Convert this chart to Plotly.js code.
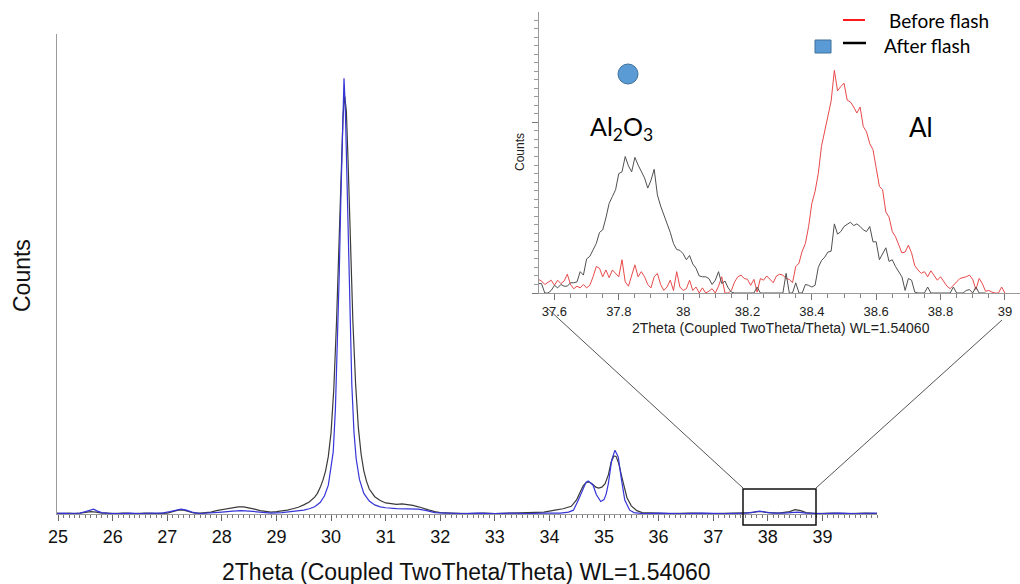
<!DOCTYPE html>
<html>
<head>
<meta charset="utf-8">
<script src="https://cdn.plot.ly/plotly-3.0.1.min.js"></script>
<style>html,body{margin:0;padding:0;background:#fff;}#chart{width:1020px;height:584px;}</style>
</head>
<body>
<div id="chart"></div>
<script>
// ---------- main pattern (2Theta, counts in arbitrary units) ----------
var mainAfterX = [24.98,25.1,25.2,25.3,25.4,25.5,25.6,25.7,25.8,25.9,26.0,26.2,26.4,26.6,26.8,27.0,27.1,27.2,27.3,27.4,27.5,27.6,27.8,27.9,28.0,28.1,28.2,28.3,28.4,28.5,28.6,28.7,28.8,28.9,29.0,29.1,29.2,29.3,29.4,29.5,29.6,29.7,29.75,29.8,29.85,29.9,29.95,30.0,30.05,30.1,30.15,30.19,30.22,30.25,30.28,30.31,30.35,30.4,30.45,30.5,30.55,30.6,30.65,30.7,30.8,30.9,31.0,31.1,31.2,31.3,31.4,31.5,31.6,31.7,31.8,31.9,32.0,32.2,32.5,32.8,33.0,33.3,33.6,33.9,34.1,34.25,34.4,34.5,34.56,34.62,34.68,34.72,34.78,34.85,34.9,34.96,35.02,35.08,35.13,35.18,35.22,35.27,35.32,35.37,35.42,35.5,35.6,35.7,35.9,36.2,36.6,37.0,37.4,37.7,37.8,37.9,38.0,38.2,38.4,38.5,38.6,38.7,38.9,39.2,39.5,39.8,40.0];
var mainAfterY = [0.2,0.1,0.2,0.1,0.2,0.3,0.5,0.4,0.2,0.2,0.1,0.2,0.1,0.2,0.1,0.2,0.5,0.8,0.8,0.5,0.2,0.2,0.4,0.7,0.9,1.2,1.4,1.5,1.5,1.3,1.0,0.7,0.5,0.4,0.5,0.6,0.8,1.1,1.4,1.9,2.5,3.5,4.3,5.5,7,9,12,17,26,40,58,74,83,87,84,74,58,40,27,18,12.5,9,6.8,5.2,3.6,2.8,2.3,2.1,2.0,2.1,2.0,1.8,1.5,1.1,0.8,0.5,0.3,0.2,0.1,0.2,0.1,0.2,0.3,0.4,0.8,1.1,1.6,3.0,4.5,5.9,6.6,6.7,6.3,5.6,5.4,5.6,6.3,8.2,10.8,12.1,12.0,10.5,8.0,5.5,3.4,1.7,0.7,0.3,0.2,0.1,0.2,0.1,0.2,0.3,0.5,0.5,0.3,0.2,0.5,0.9,0.7,0.3,0.1,0.2,0.1,0.2,0.1];

var mainBeforeX = [24.98,25.1,25.2,25.3,25.4,25.5,25.6,25.65,25.72,25.8,25.9,26.1,26.3,26.5,26.7,26.9,27.05,27.15,27.25,27.35,27.45,27.6,27.8,28.0,28.2,28.35,28.5,28.7,28.9,29.1,29.3,29.5,29.6,29.7,29.8,29.88,29.95,30.0,30.04,30.08,30.12,30.15,30.18,30.21,30.237,30.26,30.29,30.32,30.35,30.38,30.42,30.46,30.52,30.6,30.7,30.8,30.9,31.0,31.2,31.4,31.6,31.75,31.9,32.1,32.4,32.7,33.0,33.3,33.6,33.9,34.2,34.35,34.44,34.53,34.62,34.67,34.71,34.76,34.8,34.86,34.94,35.0,35.04,35.08,35.14,35.2,35.26,35.32,35.38,35.47,35.55,35.7,36.0,36.4,36.8,37.2,37.6,37.75,37.85,37.95,38.1,38.3,38.45,38.55,38.7,39.0,39.3,39.6,40.0];
var mainBeforeY = [0.1,0.2,0.1,0.2,0.2,0.5,0.9,1.0,0.6,0.3,0.2,0.1,0.2,0.1,0.2,0.2,0.5,0.8,1.0,0.8,0.4,0.1,0.2,0.4,0.6,0.7,0.6,0.4,0.2,0.3,0.5,0.8,1.1,1.5,2.4,3.8,6,9.5,13,22,36,50,66,82,90.8,85,70,52,38,27,17,11.5,7.2,4.3,2.7,1.9,1.5,1.3,1.1,1.1,1.0,0.7,0.3,0.2,0.1,0.2,0.1,0.2,0.1,0.2,0.2,0.4,0.8,2.9,5.5,6.6,6.9,6.5,6.0,4.0,2.6,3.0,4.2,6.4,11.2,13.3,11.9,7.1,2.9,0.8,0.3,0.1,0.2,0.1,0.2,0.1,0.2,0.4,0.6,0.4,0.2,0.2,0.3,0.4,0.2,0.1,0.2,0.1,0.2];

var mainTickVals = [25,26,27,28,29,30,31,32,33,34,35,36,37,38,39];

// ---------- inset (37.55 .. 39.00, step 0.01) ----------
var insetStart = 37.55;
var insetStep = 0.01;
var insetBefore = [1.6,1.4,1.0,1.3,1.5,0.9,1.5,1.1,1.4,2.2,
  1.0,0.5,0.8,0.6,1.0,0.6,0.9,1.9,3.1,2.9,
  1.9,2.7,1.8,2.7,2.3,1.9,3.9,1.3,0.8,2.2,
  3.3,1.9,2.5,1.9,1.0,0.6,1.9,2.3,1.0,0.3,
  0.7,1.5,0.3,2.5,0.7,0.3,0.5,1.5,0.3,0.7,
  0.0,0.6,0.0,0.2,0.5,0.0,0.8,1.9,0.0,0.0,
  0.3,1.3,1.9,2.1,1.7,1.6,0.9,1.6,0.1,1.7,
  1.5,2.0,1.6,1.2,2.0,2.2,2.1,1.7,1.6,1.2,
  3.1,3.5,4.9,5.8,7.8,10.5,11.9,14.0,17.2,18.9,
  20.8,22.5,26.1,23.7,24.2,24.6,22.6,22.4,21.8,21.1,
  21.8,19.5,18.9,17.5,16.8,14.5,12.5,12.1,9.5,8.9,
  7.2,6.6,5.7,4.7,4.8,5.6,4.7,3.2,2.7,2.3,
  2.5,1.9,2.6,2.0,1.5,1.9,1.3,0.8,0.5,0.9,
  1.3,1.7,1.8,1.9,2.1,1.6,0.4,1.7,1.1,0.2,
  0.3,0.1,0.0,0.0,0.7,0.0];
var insetAfter = [1.1,1.1,0.0,0.0,0.3,0.9,0.6,1.0,0.8,0.8,
  1.2,1.2,1.3,2.5,2.1,4.0,4.3,5.0,5.8,7.1,
  7.4,8.8,10.5,11.3,12.1,14.0,14.2,16.0,14.9,14.2,
  15.9,15.0,14.3,13.5,12.3,13.2,14.5,11.5,10.2,9.2,
  8.1,7.1,5.8,5.1,5.0,4.6,3.9,4.4,3.4,2.9,
  2.0,1.9,1.9,1.7,1.0,1.5,2.5,1.1,1.4,0.6,
  0.1,0,0,0,0,0,0,0,0.7,0,
  0,0,0,0,0,0,0,2.3,0,0,
  1.2,0,0,1.0,0.9,0.7,0.9,3.0,3.8,4.2,
  4.8,4.9,8.1,6.9,7.2,7.8,8.0,8.3,7.9,8.1,
  7.8,7.4,7.2,7.8,6.0,6.0,3.9,4.7,5.3,3.7,
  3.9,3.1,2.5,1.9,0.3,1.7,1.5,0.1,0,0,
  0,0.7,0,0,0,0,0,0,0,0.7,
  0,0,0,0.3,0.4,0,0.7,0,0,0];

var xTitle = "2Theta (Coupled TwoTheta/Theta) WL=1.54060";
var yTitle = "Counts";
var seriesNames = ["Before flash", "After flash"];
var peakLabels = ["Al<sub>2</sub>O<sub>3</sub>", "Al"];

// ---------- layout helpers (pixel -> paper) ----------
var W = 1020, H = 584;
function px(x){ return x / W; }
function py(y){ return 1 - y / H; }

var arial = "Liberation Sans, Arial, sans-serif";
var calib = "Lato, Open Sans, sans-serif";

var traces = [
  {x: mainAfterX, y: mainAfterY, type: "scatter", mode: "lines", name: seriesNames[1] + " (full)",
   line: {color: "#3a3a3a", width: 1.2}, xaxis: "x", yaxis: "y", showlegend: false},
  {x: mainBeforeX, y: mainBeforeY, type: "scatter", mode: "lines", name: seriesNames[0] + " (full)",
   line: {color: "#3535d8", width: 1.2}, xaxis: "x", yaxis: "y", showlegend: false},
  {x0: insetStart, dx: insetStep, y: insetBefore, type: "scatter", mode: "lines", name: seriesNames[0],
   line: {color: "#e8494a", width: 1}, xaxis: "x2", yaxis: "y2", showlegend: false},
  {x0: insetStart, dx: insetStep, y: insetAfter, type: "scatter", mode: "lines", name: seriesNames[1],
   line: {color: "#505050", width: 1}, xaxis: "x2", yaxis: "y2", showlegend: false}
];

var layout = {
  width: W, height: H,
  margin: {l: 0, r: 0, t: 0, b: 0},
  paper_bgcolor: "#ffffff", plot_bgcolor: "rgba(0,0,0,0)",
  showlegend: false,
  xaxis: {
    domain: [px(57), px(877)], range: [24.98, 40.0],
    showline: true, linecolor: "#9a9a9a", linewidth: 1,
    ticks: "outside", ticklen: 6, tickcolor: "#666", tickwidth: 1,
    tickmode: "array", tickvals: mainTickVals, showgrid: false, zeroline: false,
    minor: {dtick: 0.1, tick0: 25, ticks: "outside", ticklen: 3, tickcolor: "#777", showgrid: false},
    tickfont: {family: arial, size: 18, color: "#111"},
    ticklabelstandoff: 0, anchor: "y"
  },
  yaxis: {
    domain: [py(514), py(34)], range: [0, 100],
    showline: true, linecolor: "#9a9a9a", linewidth: 1,
    ticks: "", showticklabels: false, showgrid: false, zeroline: false, anchor: "x"
  },
  xaxis2: {
    domain: [px(539), px(1020)], range: [37.552, 39.047],
    showline: true, linecolor: "#9a9a9a", linewidth: 1,
    ticks: "outside", ticklen: 6, tickcolor: "#777", tickwidth: 1,
    dtick: 0.2, tick0: 37.6, showgrid: false, zeroline: false,
    minor: {dtick: 0.05, ticks: "outside", ticklen: 4, tickcolor: "#888", showgrid: false},
    tickfont: {family: arial, size: 13, color: "#222"},
    anchor: "y2"
  },
  yaxis2: {
    domain: [py(293), py(12)], range: [0, 32.94],
    showline: true, linecolor: "#9a9a9a", linewidth: 1,
    ticks: "outside", ticklen: 6, tickcolor: "#777", dtick: 20,
    minor: {dtick: 1, ticks: "outside", ticklen: 4, tickcolor: "#999", showgrid: false},
    showticklabels: false, showgrid: false, zeroline: false, anchor: "x2"
  },
  shapes: [
    {type: "rect", xref: "paper", yref: "paper", x0: px(743), x1: px(816), y0: py(525), y1: py(489),
     line: {color: "#111", width: 1.5}, fillcolor: "rgba(0,0,0,0)"},
    {type: "line", xref: "paper", yref: "paper", x0: px(547), y0: py(308), x1: px(743), y1: py(488),
     line: {color: "#555", width: 1}},
    {type: "line", xref: "paper", yref: "paper", x0: px(1002), y0: py(320), x1: px(816), y1: py(488),
     line: {color: "#555", width: 1}},
    {type: "line", xref: "paper", yref: "paper", x0: px(843), x1: px(865), y0: py(20), y1: py(20),
     line: {color: "#ff1a1a", width: 2}},
    {type: "line", xref: "paper", yref: "paper", x0: px(843), x1: px(866), y0: py(43), y1: py(43),
     line: {color: "#000", width: 2.5}},
    {type: "rect", xref: "paper", yref: "paper", x0: px(815), x1: px(831), y0: py(53), y1: py(40),
     line: {color: "#41719c", width: 1}, fillcolor: "#5b9bd5"},
    {type: "circle", xref: "paper", yref: "paper", x0: px(618), x1: px(638), y0: py(84), y1: py(64),
     line: {color: "#41719c", width: 1}, fillcolor: "#5b9bd5"}
  ],
  annotations: [
    {xref: "paper", yref: "paper", x: px(466), y: py(572), text: xTitle, showarrow: false,
     xanchor: "center", yanchor: "middle", font: {family: arial, size: 23, color: "#111"}},
    {xref: "paper", yref: "paper", x: px(22), y: py(276), text: yTitle, showarrow: false, textangle: -90,
     xanchor: "center", yanchor: "middle", font: {family: arial, size: 23, color: "#111"}},
    {xref: "paper", yref: "paper", x: px(781), y: py(328), text: xTitle, showarrow: false,
     xanchor: "center", yanchor: "middle", font: {family: arial, size: 14, color: "#222"}},
    {xref: "paper", yref: "paper", x: px(520), y: py(152), text: yTitle, showarrow: false, textangle: -90,
     xanchor: "center", yanchor: "middle", font: {family: arial, size: 12, color: "#222"}},
    {xref: "paper", yref: "paper", x: px(887), y: py(20), text: seriesNames[0], showarrow: false,
     xanchor: "left", yanchor: "middle", font: {family: calib, size: 19, color: "#000"}},
    {xref: "paper", yref: "paper", x: px(882), y: py(45), text: seriesNames[1], showarrow: false,
     xanchor: "left", yanchor: "middle", font: {family: calib, size: 19, color: "#000"}},
    {xref: "paper", yref: "paper", x: px(588), y: py(128), text: peakLabels[0], showarrow: false,
     xanchor: "left", yanchor: "middle", font: {family: calib, size: 25, color: "#000"}},
    {xref: "paper", yref: "paper", x: px(907), y: py(127), text: peakLabels[1], showarrow: false,
     xanchor: "left", yanchor: "middle", font: {family: calib, size: 26, color: "#000"}}
  ]
};

Plotly.newPlot("chart", traces, layout, {displayModeBar: false, staticPlot: true});
</script>
</body>
</html>
